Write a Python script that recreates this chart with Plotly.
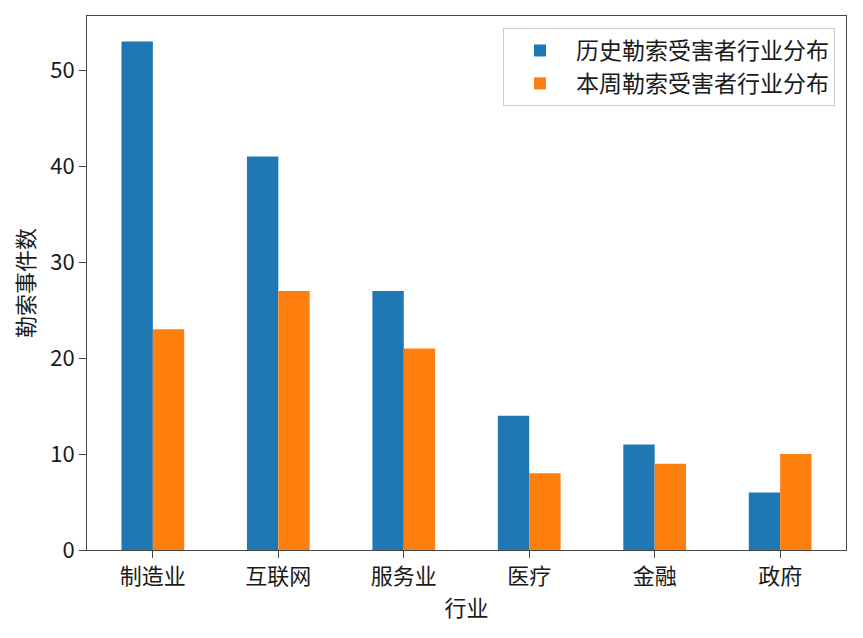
import plotly.graph_objects as go

categories = ["制造业", "互联网", "服务业", "医疗", "金融", "政府"]
hist_values = [53, 41, 27, 14, 11, 6]
week_values = [23, 27, 21, 8, 9, 10]
series_names = ["历史勒索受害者行业分布", "本周勒索受害者行业分布"]
colors = ["#1f77b4", "#ff7f0e"]

idx = list(range(len(categories)))
font = "Noto Sans CJK SC"

fig = go.Figure()
for name, vals, c in zip(series_names, [hist_values, week_values], colors):
    fig.add_trace(go.Bar(x=idx, y=vals, name=name, marker_color=c,
                         marker_line_width=0))

# page body has an 8px margin; compensate
fig.update_layout(
    width=855, height=630,
    margin=dict(l=79, r=17, t=8, b=88, autoexpand=False),
    barmode="group", bargap=0.5, bargroupgap=0,
    plot_bgcolor="white", paper_bgcolor="white",
    font=dict(family=font, size=22, color="#1a1a1a"),
    showlegend=True,
    legend=dict(x=0.9855, y=0.9775, xanchor="right", yanchor="top",
                bordercolor="#cccccc", borderwidth=1, bgcolor="rgba(255,255,255,0.8)",
                font=dict(size=23, family=font), tracegroupgap=0,
                itemwidth=62),
)
fig.update_xaxes(
    range=[-0.525, 5.525], tickmode="array", tickvals=idx, ticktext=categories,
    showline=True, linecolor="#444", linewidth=1, mirror=True,
    ticks="outside", ticklen=7, tickcolor="#444", showgrid=False,
    title=dict(text="行业", font=dict(size=22), standoff=11),
    tickfont=dict(size=22), automargin=False,
)
fig.update_yaxes(
    range=[0, 55.65], tickvals=[0, 10, 20, 30, 40, 50],
    showline=True, linecolor="#444", linewidth=1, mirror=True,
    ticks="outside", ticklen=7, tickcolor="#444", showgrid=False, zeroline=False,
    title=dict(text="勒索事件数", font=dict(size=22), standoff=10),
    tickfont=dict(size=22), automargin=False,
)

fig.write_html("out.html")
